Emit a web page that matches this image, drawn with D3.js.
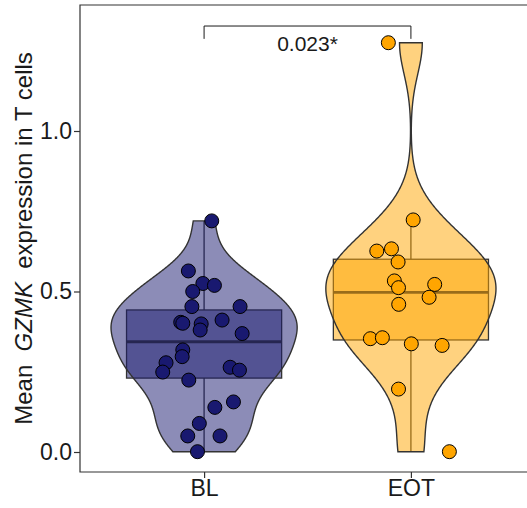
<!DOCTYPE html>
<html lang="en">
<head>
<meta charset="UTF-8">
<title>GZMK violin</title>
<style>
  body { margin: 0; background: #fff; }
  text { font-family: "Liberation Sans", Arial, sans-serif; fill: #1a1a1a; }
</style>
<script src="https://cdn.jsdelivr.net/npm/d3@7"></script>
</head>
<body>
<script>
// values
const groups = ["BL", "EOT"];
const colors = ["#191970", "#FFA500"];

const blValues = [0.72, 0.564, 0.525, 0.519, 0.50, 0.453, 0.453, 0.404, 0.401, 0.399, 0.380, 0.411, 0.369,
  0.318, 0.297, 0.278, 0.249, 0.264, 0.255, 0.224, 0.156, 0.139, 0.089, 0.050, 0.050, 0.001];
const blJitter = [0.037, -0.076, -0.006, 0.050, -0.055, -0.059, 0.174, -0.113, -0.103, -0.014, -0.019, 0.087, 0.184,
  -0.103, -0.106, -0.184, -0.200, 0.126, 0.171, -0.074, 0.142, 0.052, -0.023, -0.079, 0.077, -0.032];

const eotValues = [1.275, 0.723, 0.626, 0.633, 0.592, 0.533, 0.512, 0.522, 0.482, 0.460, 0.353, 0.356, 0.337,
  0.332, 0.196, 0.001];
const eotJitter = [-0.109, 0.011, -0.165, -0.094, -0.062, -0.080, -0.060, 0.115, 0.088, -0.059, -0.196, -0.138, 0.002,
  0.151, -0.060, 0.186];

const yTicks = [0, 0.5, 1.0];
const pLabel = "0.023*";

const width = 527, height = 508;
const margin = {left: 80, top: 5, bottom: 36};
const panelRight = 535; // panel runs past the right edge

const svg = d3.select("body").append("svg")
  .attr("width", width)
  .attr("height", height);

const x = d3.scalePoint().domain(groups).range([margin.left, panelRight]).padding(0.6);
const step = x.step();
const y = d3.scaleLinear().domain([-0.0623, 1.3925]).range([height - margin.bottom, margin.top]);

const data = [
  {name: "BL", values: blValues, jitter: blJitter, color: colors[0]},
  {name: "EOT", values: eotValues, jitter: eotJitter, color: colors[1]}
];

// gaussian kde like R density(), bw = nrd0, trimmed to data range
function kde(values) {
  const v = values.slice().sort(d3.ascending);
  const n = v.length;
  const iqr = d3.quantile(v, 0.75) - d3.quantile(v, 0.25);
  const bw = 0.9 * Math.min(d3.deviation(v), iqr / 1.34) * Math.pow(n, -0.2);
  const lo = v[0], hi = v[n - 1];
  const pts = [];
  for (let i = 0; i < 512; i++) {
    const t = lo + (hi - lo) * i / 511;
    let s = 0;
    for (const xi of v) {
      const z = (t - xi) / bw;
      s += Math.exp(-0.5 * z * z);
    }
    pts.push([t, s / (n * bw * Math.sqrt(2 * Math.PI))]);
  }
  return pts;
}

function boxStats(values) {
  const v = values.slice().sort(d3.ascending);
  const q1 = d3.quantile(v, 0.25), med = d3.quantile(v, 0.5), q3 = d3.quantile(v, 0.75);
  const iqr = q3 - q1;
  const lo = d3.min(v.filter(d => d >= q1 - 1.5 * iqr));
  const hi = d3.max(v.filter(d => d <= q3 + 1.5 * iqr));
  return {q1, med, q3, lo, hi};
}

data.forEach(d => {
  d.dens = kde(d.values);
  d.box = boxStats(d.values);
});
const maxDens = d3.max(data, d => d3.max(d.dens, p => p[1]));
const halfW = 0.45 * step;

const layer = svg.append("g");

// boxplot first, violin drawn over it with alpha
data.forEach(d => {
  const cx = x(d.name);
  const bw = 0.375 * step;
  const g = layer.append("g");
  g.append("line")
    .attr("x1", cx).attr("x2", cx)
    .attr("y1", y(d.box.q3)).attr("y2", y(d.box.hi))
    .attr("stroke", "#333").attr("stroke-width", 1.3);
  g.append("line")
    .attr("x1", cx).attr("x2", cx)
    .attr("y1", y(d.box.q1)).attr("y2", y(d.box.lo))
    .attr("stroke", "#333").attr("stroke-width", 1.3);
  g.append("rect")
    .attr("x", cx - bw).attr("width", 2 * bw)
    .attr("y", y(d.box.q3)).attr("height", y(d.box.q1) - y(d.box.q3))
    .attr("fill", d.color).attr("fill-opacity", 0.5)
    .attr("stroke", "#333").attr("stroke-width", 1.3);
  g.append("line")
    .attr("x1", cx - bw).attr("x2", cx + bw)
    .attr("y1", y(d.box.med)).attr("y2", y(d.box.med))
    .attr("stroke", "#333").attr("stroke-width", 2.8);
});

data.forEach(d => {
  const cx = x(d.name);
  const area = d3.area()
    .curve(d3.curveLinear)
    .y(p => y(p[0]))
    .x0(p => cx - halfW * p[1] / maxDens)
    .x1(p => cx + halfW * p[1] / maxDens);
  layer.append("path")
    .datum(d.dens)
    .attr("d", area)
    .attr("fill", d.color).attr("fill-opacity", 0.5)
    .attr("stroke", "#333").attr("stroke-width", 1.4);
});

// jittered points
data.forEach(d => {
  const cx = x(d.name);
  layer.append("g").selectAll("circle")
    .data(d.values.map((v, i) => ({v, j: d.jitter[i]})))
    .join("circle")
    .attr("cx", p => cx + p.j * step)
    .attr("cy", p => y(p.v))
    .attr("r", 7)
    .attr("fill", d.color)
    .attr("stroke", "#000")
    .attr("stroke-width", 1);
});

// significance bracket
const bTop = y(1.327), bLeg = y(1.287);
svg.append("path")
  .attr("d", `M${x("BL")},${bLeg}V${bTop}H${x("EOT")}V${bLeg}`)
  .attr("fill", "none").attr("stroke", "#1a1a1a").attr("stroke-width", 1);
svg.append("text")
  .attr("x", (x("BL") + x("EOT")) / 2)
  .attr("y", bTop + 24.5)
  .attr("text-anchor", "middle")
  .attr("font-size", 21)
  .text(pLabel);

// panel border
const pb = height - margin.bottom;
svg.append("path")
  .attr("d", `M${panelRight},${margin.top}H${margin.left}V${pb}H${panelRight}`)
  .attr("fill", "none").attr("stroke", "#333").attr("stroke-width", 1.2);

// axes
const yAxis = svg.append("g")
  .attr("transform", `translate(${margin.left},0)`)
  .call(d3.axisLeft(y).tickValues(yTicks).tickFormat(d3.format(".1f")).tickSize(6).tickPadding(2));
const xAxis = svg.append("g")
  .attr("transform", `translate(0,${pb})`)
  .call(d3.axisBottom(x).tickSize(6).tickPadding(2));
[yAxis, xAxis].forEach(a => {
  a.select(".domain").remove();
  a.selectAll(".tick line").attr("stroke", "#333").attr("stroke-width", 1.2);
  a.selectAll(".tick text").attr("fill", "#1a1a1a")
    .style("font-family", "'Liberation Sans', Arial, sans-serif").style("font-size", "23px");
});

// y axis title
const title = svg.append("text")
  .attr("transform", `translate(32,${(margin.top + pb) / 2}) rotate(-90)`)
  .attr("text-anchor", "middle")
  .attr("font-size", 24)
  .style("white-space", "pre");
title.append("tspan").text("Mean  ");
title.append("tspan").attr("font-style", "italic").text("GZMK");
title.append("tspan").text("  expression in T cells");
</script>
</body>
</html>
